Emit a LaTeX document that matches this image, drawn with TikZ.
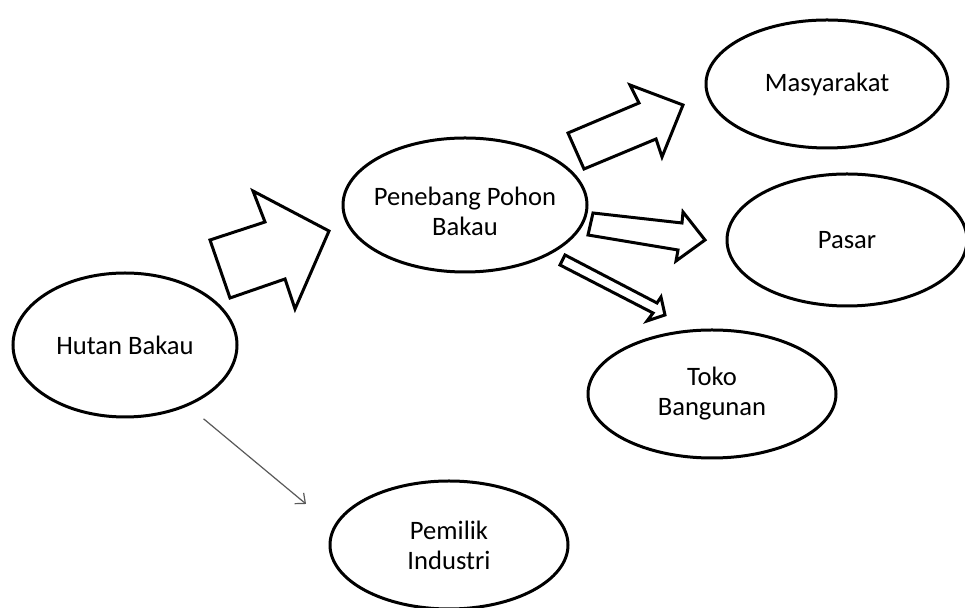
\documentclass[tikz,border=0pt]{standalone}
\usepackage{fontspec}
\setmainfont{Carlito}
\usetikzlibrary{shapes.geometric,arrows.meta}

\begin{document}
\begin{tikzpicture}[x=0.5pt,y=-0.5pt,
        oval/.style={draw,ellipse,line width=1.5pt,inner sep=0pt,align=center,font=\fontsize{13.3}{15}\selectfont},
        blok/.style={draw,line width=1.5pt,fill=white},
        tipis/.style={-{Straight Barb[length=4pt,width=7pt]},draw=black!65,line width=0.6pt}]
        \useasboundingbox[fill=white](0,0)rectangle(965,608);
        \node[oval,minimum width=112pt,minimum height=72pt](hutan)at(125,345){Hutan Bakau};
        \node[oval,inner xsep=-4pt,text height=31pt,minimum width=122pt,minimum height=67pt](penebang)at(465,205){Penebang Pohon\\Bakau};
        \node[oval,minimum width=121pt,minimum height=64pt](masyarakat)at(827,84){Masyarakat};
        \node[oval,minimum width=120pt,minimum height=66pt](pasar)at(847,240){Pasar};
        \node[oval,minimum width=124pt,minimum height=64pt](toko)at(712,394){Toko\\Bangunan};
        \node[oval,minimum width=119pt,minimum height=64pt](pemilik)at(449,545){Pemilik\\Industri};
        \draw[blok](210,240)--(265,222)--(253,191)--(329,231)--(295,309)--(285,279)--(230,298)--cycle;
        \draw[blok](568,133)--(639,103)--(630,85)--(683,105)--(662,157)--(656,139)--(584,169)--cycle;
        \draw[blok](593,213)--(682,223)--(683,212)--(705,240)--(676,261)--(678,250)--(588,235)--cycle;
        \draw[blok](565,255)--(657,303)--(661,297)--(665,315)--(647,321)--(653,313)--(560,265)--cycle;
        \draw[tipis,shorten <=10pt,shorten >=17.75pt](hutan.-44)--(pemilik.171);
    \end{tikzpicture}
\end{document}
